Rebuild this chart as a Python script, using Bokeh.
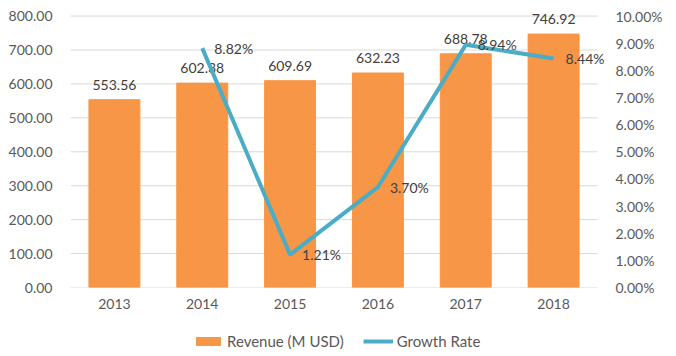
from bokeh.plotting import figure
from bokeh.layouts import column
from bokeh.models import (ColumnDataSource, Range1d, LinearAxis, FixedTicker,
                          NumeralTickFormatter, Legend, LegendItem)
from bokeh.core.properties import value
from bokeh.embed import file_html
from bokeh.resources import INLINE

years = ["2013", "2014", "2015", "2016", "2017", "2018"]
revenue = [553.56, 602.38, 609.69, 632.23, 688.78, 746.92]
growth_years = ["2014", "2015", "2016", "2017", "2018"]
growth = [0.0882, 0.0121, 0.0370, 0.0894, 0.0844]
left_ticks = [0, 100, 200, 300, 400, 500, 600, 700, 800]
right_ticks = [0.00, 0.01, 0.02, 0.03, 0.04, 0.05, 0.06, 0.07, 0.08, 0.09, 0.10]
series_names = ["Revenue (M USD)", "Growth Rate"]

FONT = "Lato"
BAR = "#F79646"
LINE = "#4BACC6"
TXT = "#404040"
AX = "#595959"
GRID = "#D9D9D9"

# category positions (category i centred at i + 0.5)
xpos = {y: i + 0.5 for i, y in enumerate(years)}
n = len(years)

bar_src = ColumnDataSource(dict(x=[xpos[y] for y in years], y=revenue,
                                lbl=["%.2f" % v for v in revenue]))
line_src = ColumnDataSource(dict(x=[xpos[y] for y in growth_years], y=growth,
                                 lbl=["%.2f%%" % (v * 100) for v in growth]))
grid_src = ColumnDataSource(dict(x0=[0] * len(left_ticks),
                                 x1=[n] * len(left_ticks),
                                 y=left_ticks))

p = figure(width=676, height=312, x_range=Range1d(0, n * 542 / 527),
           y_range=Range1d(0, 840), output_backend="svg", toolbar_location=None,
           min_border_left=70, min_border_right=64, min_border_top=2,
           min_border_bottom=25)
p.extra_y_ranges = {"pct": Range1d(0, 0.105)}
p.outline_line_color = None
p.background_fill_color = "white"
p.border_fill_color = "white"
p.grid.visible = False

p.yaxis.ticker = FixedTicker(ticks=left_ticks)
p.yaxis.formatter = NumeralTickFormatter(format="0.00")
p.yaxis.axis_line_color = None
p.yaxis.major_tick_line_color = None
p.yaxis.minor_tick_line_color = None
p.yaxis.major_label_text_font = FONT
p.yaxis.major_label_text_font_size = "14px"
p.yaxis.major_label_text_color = AX
p.yaxis.major_label_standoff = 12

ra = LinearAxis(y_range_name="pct", ticker=FixedTicker(ticks=right_ticks),
                formatter=NumeralTickFormatter(format="0.00%"))
ra.axis_line_color = None
ra.major_tick_line_color = None
ra.minor_tick_line_color = None
ra.major_label_text_font = FONT
ra.major_label_text_font_size = "14px"
ra.major_label_text_color = AX
ra.major_label_standoff = -3
p.add_layout(ra, "right")

p.xaxis.ticker = FixedTicker(ticks=[xpos[y] for y in years])
p.xaxis.major_label_overrides = {xpos[y]: y for y in years}
p.xaxis.axis_line_color = None
p.xaxis.major_tick_line_color = None
p.xaxis.minor_tick_line_color = None
p.xaxis.major_label_text_font = FONT
p.xaxis.major_label_text_font_size = "14px"
p.xaxis.major_label_text_color = AX
p.xaxis.major_label_standoff = 5

p.segment(x0="x0", x1="x1", y0="y", y1="y", source=grid_src,
          line_color=GRID, line_width=1)

p.vbar(x="x", top="y", width=0.58, source=bar_src, fill_color=BAR,
       line_color=BAR)
p.text(x="x", y="y", text="lbl", source=bar_src, text_align="center",
       text_baseline="bottom", y_offset=-10, text_font=value(FONT),
       text_font_size="14px", text_color=TXT)

p.line(x="x", y="y", source=line_src, y_range_name="pct",
       line_color=LINE, line_width=4)
p.text(x="x", y="y", text="lbl", source=line_src, y_range_name="pct",
       text_align="left", text_baseline="middle", x_offset=12,
       text_font=value(FONT), text_font_size="14px", text_color=TXT)

# legend strip
lg = figure(width=676, height=44, x_range=Range1d(0, 1), y_range=Range1d(0, 1),
            output_backend="svg", toolbar_location=None,
            x_axis_location=None, y_axis_location=None,
            min_border_left=0, min_border_right=0, min_border_top=0,
            min_border_bottom=0)
lg.grid.visible = False
lg.outline_line_color = None
lg.border_fill_color = "white"
dbar = lg.vbar(x=[-5], top=[-5], bottom=[-6], width=0.1, fill_color=BAR,
               line_color=BAR)
dline = lg.line(x=[-5, -4], y=[-5, -5], line_color=LINE, line_width=4)
legend = Legend(items=[LegendItem(label=series_names[0], renderers=[dbar]),
                       LegendItem(label=series_names[1], renderers=[dline])],
                orientation="horizontal", location=(123, 6),
                label_text_font=FONT, label_text_font_size="15px",
                label_text_color=AX, glyph_width=30, glyph_height=10,
                spacing=19, border_line_color=None, padding=4, margin=0,
                label_standoff=4, background_fill_alpha=0)
lg.add_layout(legend)

open("out.html", "w").write(file_html(column(p, lg, spacing=0), INLINE))
